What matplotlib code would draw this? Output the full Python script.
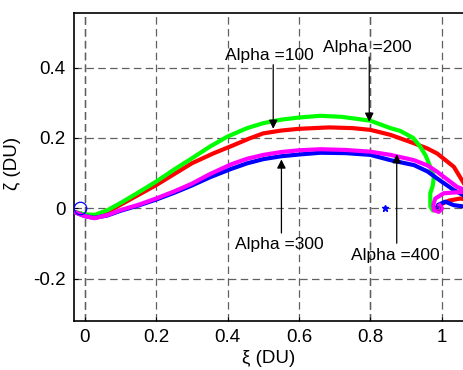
import numpy as np
import matplotlib
matplotlib.use("Agg")
import matplotlib.pyplot as plt

plt.rcParams['font.family'] = ['Liberation Sans', 'DejaVu Sans']

# -------- data --------
# Alpha = 100 (red)
red_x = [-0.03, 0.0, 0.03, 0.064, 0.1, 0.15, 0.2, 0.25, 0.3, 0.36, 0.418, 0.46,
         0.5, 0.55, 0.6, 0.685, 0.75, 0.8, 0.856, 0.922, 0.96, 0.987, 1.034,
         1.062, 1.08, 1.085, 1.07, 1.052, 1.02, 0.995, 0.985]
red_y = [-0.01, -0.018, -0.02, -0.01, 0.01, 0.038, 0.066, 0.097, 0.128, 0.156,
         0.18, 0.198, 0.213, 0.221, 0.226, 0.23, 0.228, 0.223, 0.209, 0.185,
         0.17, 0.156, 0.118, 0.071, 0.045, 0.03, 0.025, 0.028, 0.022, 0.01, 0.0]

# Alpha = 200 (green)
green_x = [-0.03, -0.01, 0.01, 0.03, 0.064, 0.1, 0.15, 0.2, 0.25, 0.3, 0.35,
           0.4, 0.455, 0.5, 0.55, 0.6, 0.66, 0.72, 0.8, 0.856, 0.884, 0.92,
           0.94, 0.955, 0.968, 0.978, 0.975, 0.968, 0.968, 0.975, 0.985, 0.99]
green_y = [-0.01, -0.015, -0.018, -0.018, -0.005, 0.015, 0.045, 0.076, 0.11,
           0.142, 0.175, 0.204, 0.228, 0.242, 0.252, 0.258, 0.263, 0.26, 0.249,
           0.228, 0.22, 0.2, 0.175, 0.15, 0.118, 0.09, 0.065, 0.043, 0.005,
           -0.006, -0.004, 0.0]

# Alpha = 300 (blue)
blue_x = [-0.03, 0.0, 0.027, 0.064, 0.1, 0.15, 0.2, 0.25, 0.298, 0.35, 0.41,
          0.455, 0.501, 0.55, 0.6, 0.66, 0.73, 0.8, 0.856, 0.922, 0.96, 0.987,
          1.034, 1.065, 1.085, 1.08, 1.064, 1.034, 1.01, 0.99, 0.985]
blue_y = [-0.01, -0.022, -0.027, -0.02, -0.007, 0.008, 0.025, 0.044, 0.064,
          0.088, 0.112, 0.128, 0.14, 0.148, 0.153, 0.158, 0.157, 0.152, 0.137,
          0.123, 0.105, 0.085, 0.052, 0.035, 0.02, 0.008, 0.005, 0.009, 0.019,
          0.01, 0.0]

# Alpha = 400 (magenta)
mag_x = [-0.03, 0.0, 0.027, 0.064, 0.1, 0.15, 0.2, 0.25, 0.298, 0.35, 0.41,
         0.455, 0.501, 0.55, 0.6, 0.66, 0.73, 0.8, 0.856, 0.922, 0.96, 0.987,
         1.043, 1.07, 1.075, 1.062, 1.006, 0.982, 0.976, 0.978, 0.992, 1.001,
         0.994]
mag_y = [-0.01, -0.022, -0.028, -0.019, -0.005, 0.01, 0.028, 0.048, 0.069,
         0.097, 0.125, 0.141, 0.152, 0.16, 0.165, 0.168, 0.166, 0.161, 0.152,
         0.137, 0.122, 0.104, 0.061, 0.05, 0.045, 0.047, 0.043, 0.028, 0.009,
         -0.005, -0.01, 0.0, 0.009]

# annotations: label, text position, arrow tail, arrow tip
labels = ['Alpha =100', 'Alpha =200', 'Alpha =300', 'Alpha =400']
text_xy = [(0.394, 0.434), (0.668, 0.457), (0.422, -0.102), (0.747, -0.135)]
arrow_from = [(0.528, 0.408), (0.797, 0.430), (0.551, -0.070), (0.874, -0.099)]
arrow_to = [(0.528, 0.226), (0.797, 0.246), (0.551, 0.139), (0.874, 0.154)]

xticks = [0, 0.2, 0.4, 0.6, 0.8, 1]
yticks = [-0.2, 0, 0.2, 0.4]

# -------- figure --------
fig = plt.figure(figsize=(4.64, 3.70), dpi=100)
ax = fig.add_axes([74 / 464, 49 / 370, 392 / 464, 308 / 370])

ax.set_xlim(-0.03, 1.068)
ax.set_ylim(-0.32, 0.555)
ax.set_xticks(xticks)
ax.set_xticklabels(['0', '0.2', '0.4', '0.6', '0.8', '1'])
ax.set_yticks(yticks)
ax.set_yticklabels(['-0.2', '0', '0.2', '0.4'])

ax.grid(True, color='#606060', linewidth=0.9, linestyle=(0, (6, 3.5)))
for xv in [0, 0.8]:
    ax.axvline(xv, color='black', linewidth=0.9, linestyle=(0, (6, 3.5)), zorder=1)

lw = 3.0
ax.plot(red_x, red_y, color='#ff0000', linewidth=lw, solid_joinstyle='round', zorder=3)
ax.plot(green_x, green_y, color='#00ff00', linewidth=lw, solid_joinstyle='round', zorder=3)
ax.plot(blue_x, blue_y, color='#0000ff', linewidth=lw, solid_joinstyle='round', zorder=3)
ax.plot(mag_x, mag_y, color='#ff00ff', linewidth=lw, solid_joinstyle='round', zorder=3)

ax.plot([-0.012], [0.0], 'o', mfc='none', mec='#0000ff', markersize=9, mew=0.9, zorder=4)
ax.plot([0.84], [0.0], '*', color='#0000ff', markersize=5, zorder=4)
ax.plot([0.99], [0.0], 'o', mfc='none', mec='#aa00aa', markersize=3, mew=0.7, zorder=4)

for lab, txy, a0, a1 in zip(labels, text_xy, arrow_from, arrow_to):
    ax.text(txy[0], txy[1], lab, fontsize=12.5, ha='left', va='center', zorder=5)
    ax.annotate('', xy=a1, xytext=a0,
                arrowprops=dict(arrowstyle='-|>', color='black', lw=0.9,
                                mutation_scale=13, shrinkA=0, shrinkB=0),
                zorder=5)

ax.tick_params(direction='in', length=3, labelsize=13.5, pad=6, colors='black')
for side in ['left', 'top', 'bottom']:
    ax.spines[side].set_linewidth(1.2)
ax.spines['right'].set_visible(False)

ax.set_xlabel('ξ (DU)', fontsize=13.5)
ax.set_ylabel('ζ (DU)', fontsize=13.5)
ax.xaxis.set_label_coords(0.497, -0.095)
ax.yaxis.set_label_coords(-0.135, 0.513)

fig.savefig('out.png', dpi=100)
